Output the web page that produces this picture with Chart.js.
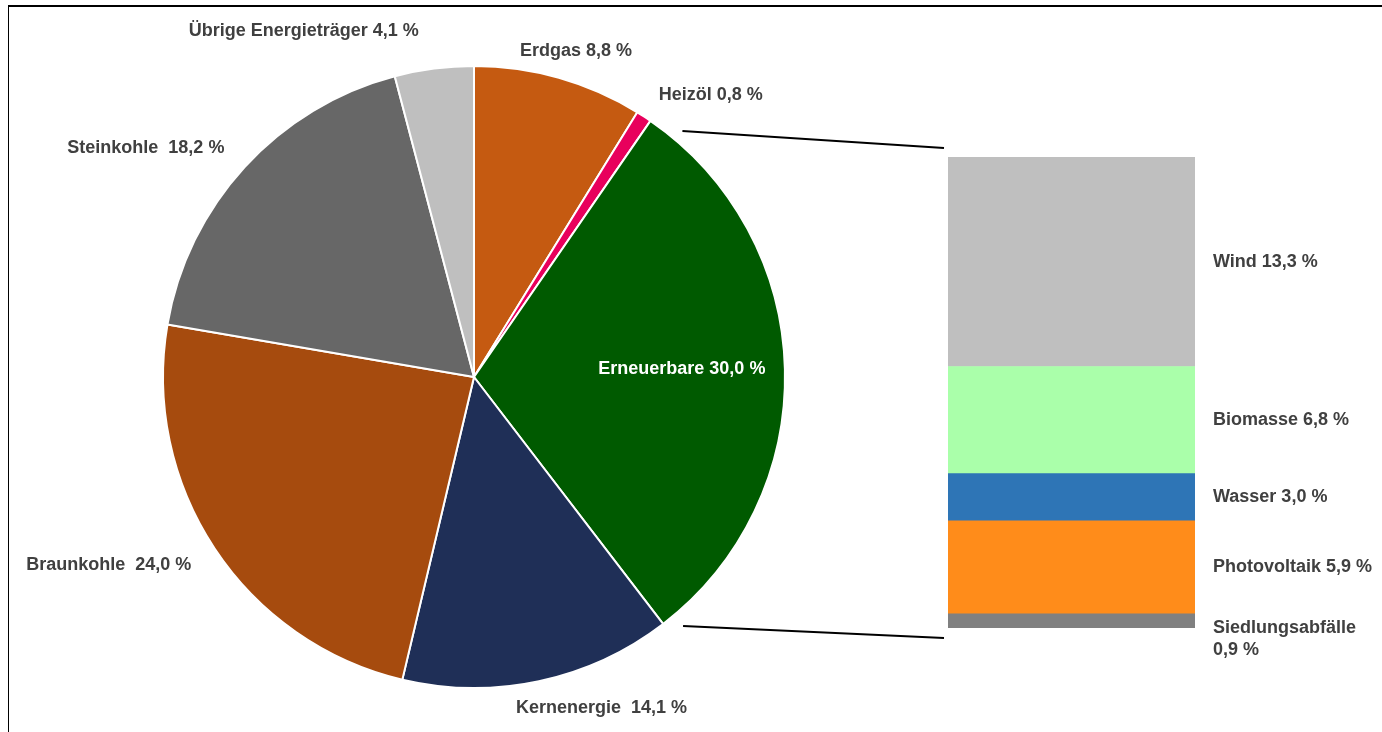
<!DOCTYPE html>
<html><head><meta charset="utf-8">
<script src="https://cdn.jsdelivr.net/npm/chart.js@4.4.1/dist/chart.umd.min.js"></script>
<style>
html,body{margin:0;padding:0;background:#fff;overflow:hidden;}
#wrap{position:relative;width:1382px;height:732px;overflow:hidden;}
canvas{position:absolute;left:0;top:0;}
#frame{position:absolute;left:8px;top:5px;width:1420px;height:780px;border-left:1.5px solid #000;border-top:2px solid #000;}
</style></head><body>
<div id="wrap"><div id="frame"></div>
<canvas id="pie" width="1382" height="732"></canvas>
<canvas id="bar" width="1382" height="732"></canvas>
</div>
<script>
// ---- data ----
const pieCategories = ['Erdgas', 'Heizöl', 'Erneuerbare', 'Kernenergie', 'Braunkohle', 'Steinkohle', 'Übrige Energieträger'];
const pieValues = [8.8, 0.8, 30.0, 14.1, 24.0, 18.2, 4.1];
const renewCategories = ['Wind', 'Biomasse', 'Wasser', 'Photovoltaik', 'Siedlungsabfälle'];
const renewValues = [13.3, 6.8, 3.0, 5.9, 0.9];

// ---- styles ----
const pieColors = ['#C55A11', '#E8005C', '#005A00', '#1F2F57', '#A64B0E', '#676767', '#BFBFBF'];
const renewColors = ['#BFBFBF', '#AAFFAA', '#2E75B6', '#FF8C1A', '#808080'];
const FONT = 'bold 18px "Liberation Sans", Arial, sans-serif';
const TXT = '#404040';
const fmt = v => v.toFixed(1).replace('.', ',') + ' %';
const wideSep = new Set(['Kernenergie', 'Braunkohle', 'Steinkohle']);
// label placement relative to each slice: angle shift (deg) and distance beyond the rim (px)
const piePlace = [
  {dAng: 1.5, extra: 31}, {dAng: 6.9, extra: 57}, {dAng: -0.8, extra: -103},
  {dAng: -9.0, extra: 44}, {dAng: 6.2, extra: 100}, {dAng: -7.6, extra: 89}, {dAng: -18.8, extra: 75}
];

const pieLabels = {
  id: 'pieLabels',
  afterDatasetsDraw(chart) {
    const ctx = chart.ctx, meta = chart.getDatasetMeta(0);
    ctx.save();
    ctx.font = FONT; ctx.textAlign = 'center'; ctx.textBaseline = 'middle';
    meta.data.forEach((arc, i) => {
      const p = piePlace[i];
      const mid = (arc.startAngle + arc.endAngle) / 2 + p.dAng * Math.PI / 180;
      const r = arc.outerRadius + p.extra;
      const name = pieCategories[i];
      const text = name + (wideSep.has(name) ? '  ' : ' ') + fmt(pieValues[i]);
      ctx.fillStyle = i === 2 ? '#FFFFFF' : TXT;
      ctx.fillText(text, arc.x + Math.cos(mid) * r, arc.y + Math.sin(mid) * r);
    });
    ctx.restore();
  }
};

const pieChart = new Chart(document.getElementById('pie'), {
  type: 'pie',
  data: { labels: pieCategories, datasets: [{ data: pieValues, backgroundColor: pieColors, borderColor: '#FFFFFF', borderWidth: 2 }] },
  options: {
    responsive: false, animation: false,
    layout: { padding: { left: 162, right: 596, top: 65, bottom: 43 } },
    plugins: { legend: { display: false }, tooltip: { enabled: false } }
  },
  plugins: [pieLabels]
});

const renewTotal = renewValues.reduce((a, b) => a + b, 0);

const barLabels = {
  id: 'barLabels',
  afterDatasetsDraw(chart) {
    const ctx = chart.ctx;
    ctx.save();
    ctx.font = FONT; ctx.fillStyle = TXT; ctx.textAlign = 'left'; ctx.textBaseline = 'middle';
    chart.data.datasets.forEach((ds, di) => {
      const el = chart.getDatasetMeta(di).data[0];
      const i = ds.srcIndex;
      const x = el.x + el.width / 2 + 18;
      const cy = (el.y + el.base) / 2;
      if (renewValues[i] < 2) {
        ctx.fillText(renewCategories[i], x, cy + 7);
        ctx.fillText(fmt(renewValues[i]), x, cy + 29);
      } else {
        ctx.fillText(renewCategories[i] + ' ' + fmt(renewValues[i]), x, cy);
      }
    });
    ctx.restore();
  }
};

const connectors = {
  id: 'connectors',
  afterDraw(chart) {
    const arc = pieChart.getDatasetMeta(0).data[2];
    const n = chart.data.datasets.length;
    const topEl = chart.getDatasetMeta(n - 1).data[0];
    const botEl = chart.getDatasetMeta(0).data[0];
    const left = topEl.x - topEl.width / 2;
    const R = arc.outerRadius;
    const s0 = { x: arc.x + Math.cos(arc.startAngle) * R, y: arc.y + Math.sin(arc.startAngle) * R };
    const s1 = { x: arc.x + Math.cos(arc.endAngle) * R, y: arc.y + Math.sin(arc.endAngle) * R };
    const ctx = chart.ctx;
    ctx.save();
    ctx.strokeStyle = '#000'; ctx.lineWidth = 2;
    ctx.beginPath();
    ctx.moveTo(s0.x + 32, s0.y + 10); ctx.lineTo(left - 4, topEl.y - 9);
    ctx.moveTo(s1.x + 20, s1.y + 2); ctx.lineTo(left - 4, botEl.base + 10);
    ctx.stroke();
    ctx.restore();
  }
};

new Chart(document.getElementById('bar'), {
  type: 'bar',
  data: {
    labels: ['Erneuerbare'],
    datasets: renewCategories.map((c, i) => ({
      label: c, srcIndex: i, data: [renewValues[i]], backgroundColor: renewColors[i], borderWidth: 0,
      barPercentage: 1, categoryPercentage: 1
    })).reverse()
  },
  options: {
    responsive: false, animation: false,
    layout: { padding: { left: 948, right: 187, top: 157, bottom: 104 } },
    scales: {
      x: { stacked: true, display: false },
      y: { stacked: true, display: false, min: 0, max: renewTotal }
    },
    plugins: { legend: { display: false }, tooltip: { enabled: false } }
  },
  plugins: [barLabels, connectors]
});
</script>
</body></html>
